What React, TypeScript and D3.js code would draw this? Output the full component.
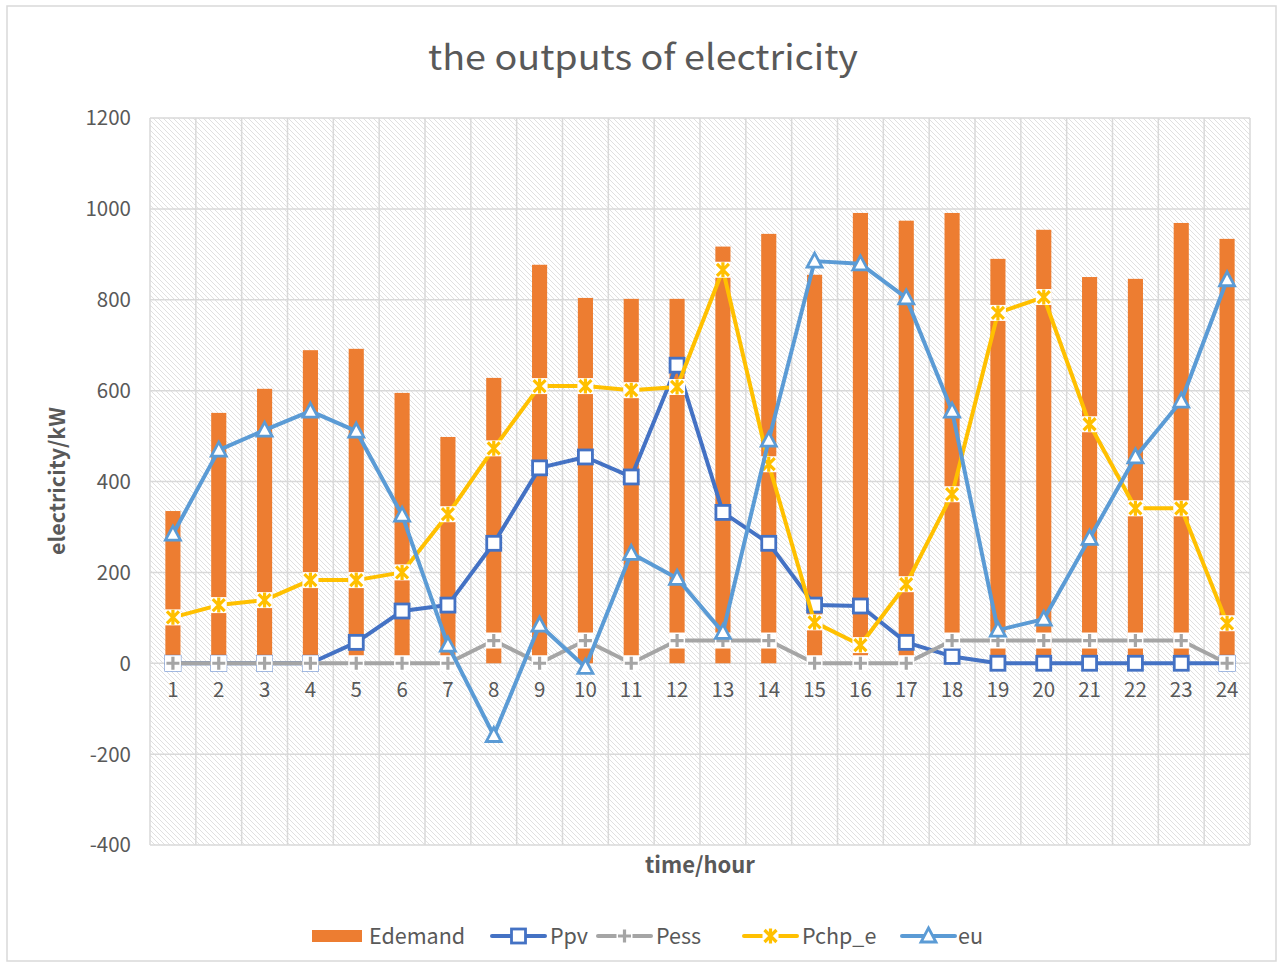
import React from "react";
import * as d3 from "d3";

const hours = ["1","2","3","4","5","6","7","8","9","10","11","12","13","14","15","16","17","18","19","20","21","22","23","24"];
const edemand = [335,551,604,689,692,595,498,628,877,804,802,802,917,945,855,991,974,991,890,954,850,846,969,934];
const ppv = [0,0,0,0,46,115,128,264,430,454,410,656,332,264,128,126,46,15,0,0,0,0,0,0];
const pess = [0,0,0,0,0,0,0,50,0,50,0,50,50,50,0,0,0,50,50,50,50,50,50,0];
const pchpE = [101,128,139,183,183,200,328,473,610,610,601,608,866,438,90,40,174,372,771,806,526,341,341,88];
const eu = [284,469,513,555,511,326,40,-159,84,-9,242,187,68,491,885,879,804,555,73,97,275,454,577,844];
const yTicks = [-400,-200,0,200,400,600,800,1000,1200];

const FONT = "'Noto Sans CJK SC', 'Noto Sans', sans-serif";
const TXT = "#595959";

type Kind = "square" | "plus" | "star" | "triangle";

function Marker({ kind, x, y, color }: { kind: Kind; x: number; y: number; color: string }) {
  const s = 7;
  if (kind === "square") {
    return <rect x={x - s} y={y - s} width={2 * s} height={2 * s} fill="#fff" stroke={color} strokeWidth={2.8} />;
  }
  if (kind === "triangle") {
    const p = `M${x},${y - s - 1}L${x + s + 0.5},${y + s - 1}L${x - s - 0.5},${y + s - 1}Z`;
    return <path d={p} fill="#fff" stroke={color} strokeWidth={2.8} strokeLinejoin="miter" />;
  }
  if (kind === "plus") {
    return (
      <g>
        <rect x={x - 8} y={y - 8} width={16} height={16} fill="#fff" />
        <path d={`M${x - 6.5},${y}H${x + 6.5}M${x},${y - 6.5}V${y + 6.5}`} stroke={color} strokeWidth={3.2} />
      </g>
    );
  }
  return (
    <g>
      <rect x={x - 8} y={y - 8} width={16} height={16} fill="#fff" />
      <path d={`M${x - 6},${y - 6}L${x + 6},${y + 6}M${x + 6},${y - 6}L${x - 6},${y + 6}M${x},${y - 7.5}V${y + 7.5}`} stroke={color} strokeWidth={3.2} />
    </g>
  );
}

export default function App() {
  const left = 150, right = 1250, top = 118, bottom = 845;
  const x = d3.scaleBand<string>().domain(hours).range([left, right]).padding(0);
  const y = d3.scaleLinear().domain([-400, 1200]).range([bottom, top]);
  const bw = x.bandwidth() * 0.33;
  const cx = (h: string) => (x(h) as number) + x.bandwidth() / 2;
  const line = d3.line<number>().x((_, i) => cx(hours[i])).y((v) => y(v));

  const series: { name: string; data: number[]; color: string; kind: Kind }[] = [
    { name: "Ppv", data: ppv, color: "#4472C4", kind: "square" },
    { name: "Pess", data: pess, color: "#A5A5A5", kind: "plus" },
    { name: "Pchp_e", data: pchpE, color: "#FFC000", kind: "star" },
    { name: "eu", data: eu, color: "#5B9BD5", kind: "triangle" },
  ];

  const legendY = 936;
  const legendItems = [
    { x: 492, textX: 550 },
    { x: 598, textX: 656 },
    { x: 744, textX: 802 },
    { x: 902, textX: 958 },
  ];

  return (
    <svg width={1282} height={967} style={{ position: "absolute", left: 0, top: 0, display: "block" }} fontFamily={FONT}>
      <defs>
        <pattern id="hatch" patternUnits="userSpaceOnUse" width={5} height={5}>
          <rect width={5} height={5} fill="#fff" />
          <path d="M0,0L5,5M-1,4L1,6M4,-1L6,1" stroke="#e0e0e0" strokeWidth={1} />
        </pattern>
      </defs>
      <rect x={0} y={0} width={1282} height={967} fill="#fff" />
      <rect x={7} y={6} width={1269} height={955} fill="#fff" stroke="#d9d9d9" strokeWidth={1.5} />
      <text x={643} y={70} textAnchor="middle" fontSize={35} fill={TXT} textLength={430} lengthAdjust="spacingAndGlyphs">the outputs of electricity</text>

      <rect x={left} y={top} width={right - left} height={bottom - top} fill="url(#hatch)" />
      {yTicks.map((t) => (
        <line key={"h" + t} x1={left} x2={right} y1={y(t)} y2={y(t)} stroke="#d9d9d9" strokeWidth={1.5} />
      ))}
      {hours.map((h) => (
        <line key={"v" + h} x1={x(h) as number} x2={x(h) as number} y1={top} y2={bottom} stroke="#d9d9d9" strokeWidth={1.5} />
      ))}
      <line x1={right} x2={right} y1={top} y2={bottom} stroke="#d9d9d9" strokeWidth={1.5} />

      {yTicks.map((t) => (
        <text key={"yt" + t} x={131} y={y(t)} dy="0.36em" textAnchor="end" fontSize={20.5} fill={TXT}>{t}</text>
      ))}
      {hours.map((h) => (
        <text key={"xt" + h} x={cx(h)} y={697} textAnchor="middle" fontSize={20.5} fill={TXT}>{h}</text>
      ))}

      {edemand.map((v, i) => (
        <rect key={"b" + i} x={cx(hours[i]) - bw / 2} y={y(Math.max(v, 0))} width={bw} height={Math.abs(y(v) - y(0))} fill="#ED7D31" />
      ))}

      {series.map((s) => (
        <g key={s.name}>
          <path d={line(s.data) || ""} fill="none" stroke={s.color} strokeWidth={4} strokeLinejoin="round" strokeLinecap="round" />
          {s.data.map((v, i) => (
            <Marker key={i} kind={s.kind} x={cx(hours[i])} y={y(v)} color={s.color} />
          ))}
        </g>
      ))}

      <text transform={`translate(65,${481}) rotate(-90)`} textAnchor="middle" fontSize={21.5} fontWeight="bold" fill={TXT}>electricity/kW</text>
      <text x={700} y={873} textAnchor="middle" fontSize={22} fontWeight="bold" fill={TXT}>time/hour</text>

      <rect x={312} y={930} width={50} height={12} fill="#ED7D31" />
      <text x={369} y={legendY} dy="0.36em" fontSize={21.5} fill={TXT}>Edemand</text>
      {series.map((s, i) => (
        <g key={"lg" + s.name}>
          <line x1={legendItems[i].x} x2={legendItems[i].x + 53} y1={legendY} y2={legendY} stroke={s.color} strokeWidth={4} strokeLinecap="round" />
          <Marker kind={s.kind} x={legendItems[i].x + 26.5} y={legendY} color={s.color} />
          <text x={legendItems[i].textX} y={legendY} dy="0.36em" fontSize={21.5} fill={TXT}>{s.name}</text>
        </g>
      ))}
    </svg>
  );
}
